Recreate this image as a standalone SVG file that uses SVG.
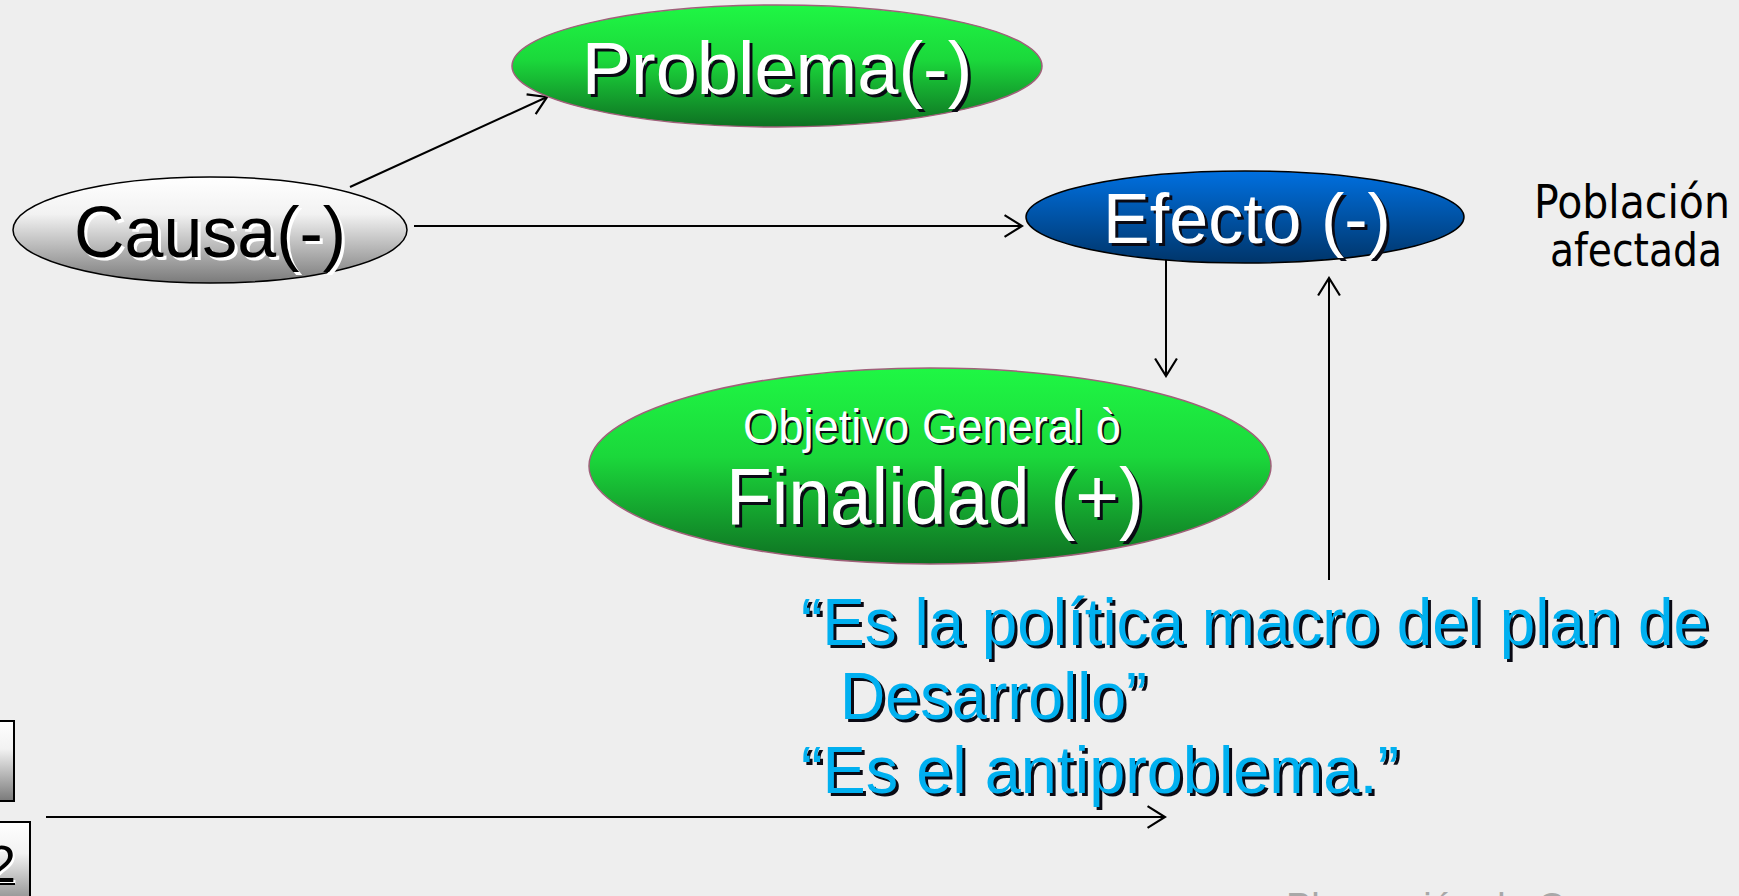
<svg xmlns="http://www.w3.org/2000/svg" width="1739" height="896" viewBox="0 0 1739 896">
<defs>
<linearGradient id="gGreen" x1="0" y1="0" x2="0" y2="1">
<stop offset="0" stop-color="#1ff744"/>
<stop offset="0.45" stop-color="#1bd83b"/>
<stop offset="1" stop-color="#0e7022"/>
</linearGradient>
<linearGradient id="gBlue" x1="0" y1="0" x2="0" y2="1">
<stop offset="0" stop-color="#0070e0"/>
<stop offset="1" stop-color="#00356a"/>
</linearGradient>
<linearGradient id="gGrey" x1="0" y1="0" x2="0" y2="1">
<stop offset="0" stop-color="#ffffff"/>
<stop offset="0.35" stop-color="#f2f2f2"/>
<stop offset="1" stop-color="#7a7a7a"/>
</linearGradient>
<marker id="arr" markerUnits="userSpaceOnUse" markerWidth="22" markerHeight="24" viewBox="0 0 20 22" refX="18" refY="11" orient="auto">
<path d="M2,1 L18,11 L2,21" fill="none" stroke="#000" stroke-width="2"/>
</marker>
</defs>
<style>
.ar{font-family:"Liberation Sans",Arial,sans-serif}
.wt{fill:#fff}
.bk{fill:#000}
.bl{fill:#00b0f0}
.sd{fill:#0a0a14}
.conn line{stroke:#000;stroke-width:2;fill:none}
.en{stroke:#a0607a;stroke-width:1.5}
.eb{stroke:#000;stroke-width:1.5}
.cx{text-anchor:middle}
.cd{font-family:"DejaVu Sans Condensed","DejaVu Sans",sans-serif;font-stretch:condensed}
</style>
<rect width="1739" height="896" fill="#eeeeee"/>

<g id="connectors" class="conn">
<line x1="350" y1="187" x2="547" y2="97" marker-end="url(#arr)"/>
<line x1="414" y1="226" x2="1022" y2="226" marker-end="url(#arr)"/>
<line x1="1166" y1="258" x2="1166" y2="376" marker-end="url(#arr)"/>
<line x1="1329" y1="580" x2="1329" y2="278" marker-end="url(#arr)"/>
<line x1="46" y1="817" x2="1165" y2="817" marker-end="url(#arr)"/>
</g>

<g id="box1">
<rect x="-10" y="721" width="24" height="80" fill="url(#gGrey)" stroke="#000" stroke-width="2"/>
</g>
<g id="box2">
<rect x="-10" y="822" width="40" height="90" fill="url(#gGrey)" stroke="#000" stroke-width="2"/>
<text class="ar wt" x="18" y="884" font-size="52" text-anchor="end">2</text>
<text class="ar bk" x="16" y="882" font-size="52" text-anchor="end">2</text>
<line x1="-5" y1="884" x2="15" y2="884" stroke="#000" stroke-width="2"/>
</g>

<g id="problema">
<ellipse cx="777" cy="66" rx="265" ry="61" fill="url(#gGreen)" class="en"/>
<text class="ar sd cx" x="780" y="97" font-size="74">Problema(-)</text>
<text class="ar wt cx" x="777" y="94" font-size="74">Problema(-)</text>
</g>

<g id="causa">
<ellipse cx="210" cy="230" rx="197" ry="53" fill="url(#gGrey)" class="eb"/>
<text class="ar wt cx" x="213" y="260" font-size="72" textLength="272" lengthAdjust="spacingAndGlyphs">Causa(-)</text>
<text class="ar bk cx" x="210" y="257" font-size="72" textLength="272" lengthAdjust="spacingAndGlyphs">Causa(-)</text>
</g>

<g id="efecto">
<ellipse cx="1245" cy="217" rx="219" ry="46" fill="url(#gBlue)" class="eb"/>
<text class="ar sd cx" x="1250" y="246" font-size="70">Efecto (-)</text>
<text class="ar wt cx" x="1247" y="243" font-size="70">Efecto (-)</text>
</g>

<g id="poblacion">
<text class="cd" x="1632" y="218" font-size="47" text-anchor="middle" fill="#000" textLength="196" lengthAdjust="spacingAndGlyphs">Población</text>
<text class="cd" x="1636" y="266" font-size="47" text-anchor="middle" fill="#000" textLength="172" lengthAdjust="spacingAndGlyphs">afectada</text>
</g>

<g id="finalidad">
<ellipse cx="930" cy="466" rx="341" ry="98" fill="url(#gGreen)" class="en"/>
<text class="ar sd cx" x="934" y="445" font-size="49" textLength="378" lengthAdjust="spacingAndGlyphs">Objetivo General ò</text>
<text class="ar wt cx" x="932" y="443" font-size="49" textLength="378" lengthAdjust="spacingAndGlyphs">Objetivo General ò</text>
<text class="ar sd cx" x="938" y="527" font-size="79" textLength="418" lengthAdjust="spacingAndGlyphs">Finalidad (+)</text>
<text class="ar wt cx" x="935" y="524" font-size="79" textLength="418" lengthAdjust="spacingAndGlyphs">Finalidad (+)</text>
</g>

<g id="definicion">
<text class="ar sd" font-size="67" x="804" y="648" textLength="908" lengthAdjust="spacingAndGlyphs">“Es la política macro del plan de</text>
<text class="ar bl" font-size="67" x="801" y="645" textLength="908" lengthAdjust="spacingAndGlyphs">“Es la política macro del plan de</text>
<text class="ar sd" font-size="67" x="843" y="722" textLength="307" lengthAdjust="spacingAndGlyphs">Desarrollo”</text>
<text class="ar bl" font-size="67" x="840" y="719" textLength="307" lengthAdjust="spacingAndGlyphs">Desarrollo”</text>
<text class="ar sd" font-size="67" x="804" y="796" textLength="598" lengthAdjust="spacingAndGlyphs">“Es el antiproblema.”</text>
<text class="ar bl" font-size="67" x="801" y="793" textLength="598" lengthAdjust="spacingAndGlyphs">“Es el antiproblema.”</text>
</g>

<g id="pie">
<text class="ar" x="1286" y="920" font-size="38" fill="#a8a8a8">Planeación de Campo</text>
</g>
</svg>
